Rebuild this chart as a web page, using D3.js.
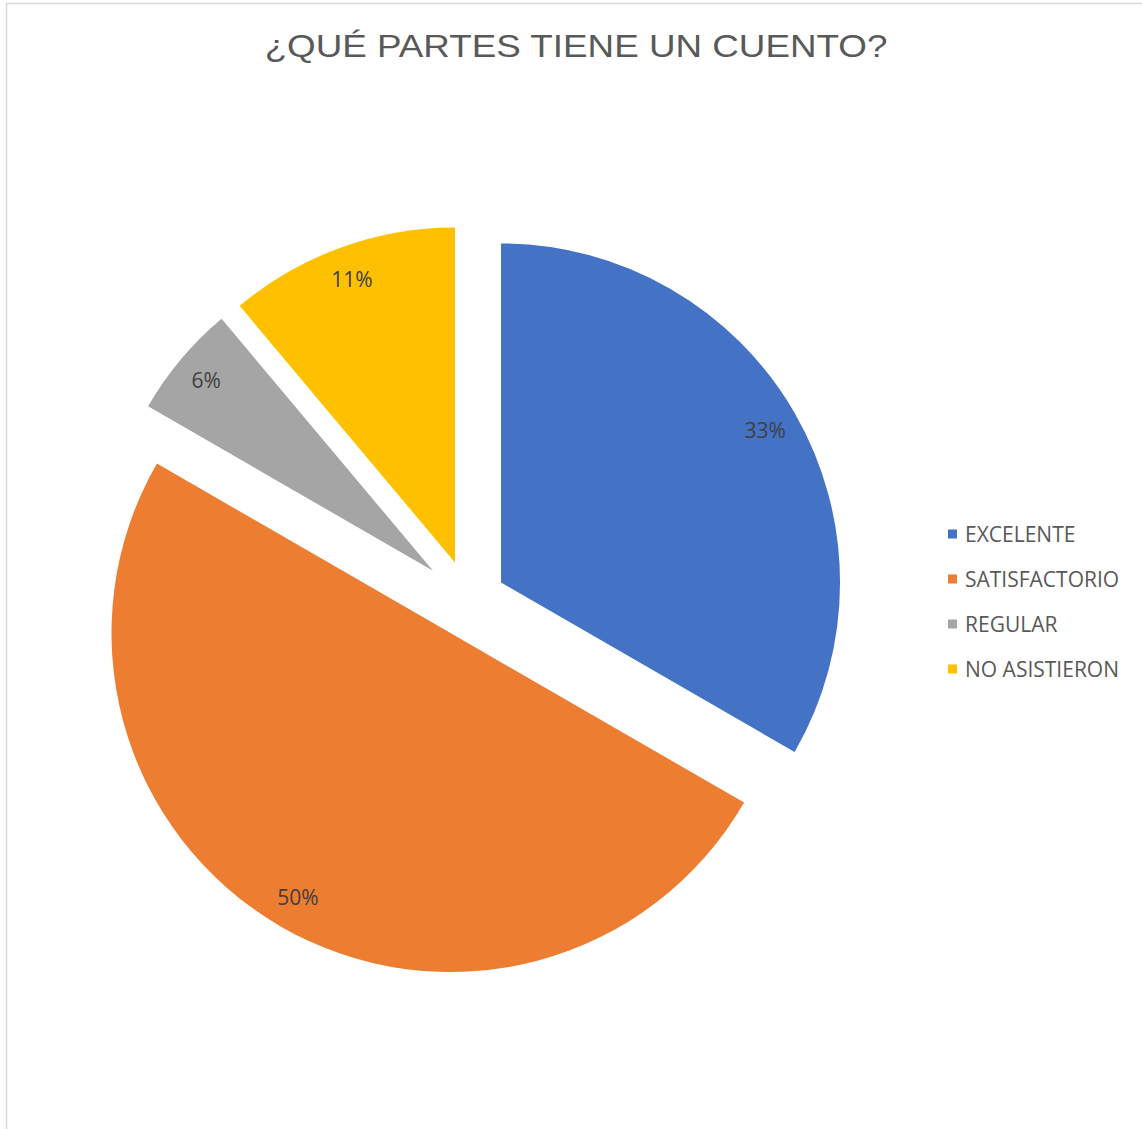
<!DOCTYPE html>
<html>
<head>
<meta charset="utf-8">
<script src="https://cdn.jsdelivr.net/npm/d3@7"></script>
<style>
  html, body { margin: 0; padding: 0; background: #ffffff; }
  svg { display: block; }
</style>
</head>
<body>
<script>
// ---- data ----
const title = "¿QUÉ PARTES TIENE UN CUENTO?";
const categories = ["EXCELENTE", "SATISFACTORIO", "REGULAR", "NO ASISTIERON"];
const values = [6, 9, 1, 2];
const colors = ["#4472C4", "#ED7D31", "#A5A5A5", "#FFC000"];
const explode = [37, 37, 47, 41];   // per-slice explosion distance (px)

// ---- layout ----
const W = 1142, H = 1129;
const cx = 469, cy = 601, outerR = 376;

const svg = d3.select("body").append("svg")
  .attr("width", W).attr("height", H);

// chart border (only top/left visible in the crop)
svg.append("rect")
  .attr("x", 6.5).attr("y", 3.5)
  .attr("width", W + 20).attr("height", H + 20)
  .attr("fill", "none").attr("stroke", "#D9D9D9").attr("stroke-width", 1.5);

svg.append("text")
  .attr("transform", "translate(576,57) scale(1.15,1)")
  .attr("text-anchor", "middle")
  .attr("font-family", "'Liberation Sans', Arial, sans-serif")
  .attr("font-size", 32)
  .attr("fill", "#595959")
  .text(title);

const total = d3.sum(values);
const pct = d3.format(".0%");
const pie = d3.pie().sort(null).value(d => d)(values);

const g = svg.append("g").attr("transform", `translate(${cx},${cy})`);

pie.forEach((p, i) => {
  const mid = (p.startAngle + p.endAngle) / 2;
  const dx = Math.sin(mid), dy = -Math.cos(mid);
  const ox = dx * explode[i], oy = dy * explode[i];
  const r = outerR - explode[i];
  const arc = d3.arc().innerRadius(0).outerRadius(r);
  const sg = g.append("g").attr("transform", `translate(${ox},${oy})`);
  sg.append("path").attr("d", arc(p)).attr("fill", colors[i]);
  sg.append("text")
    .attr("x", dx * r * 0.9).attr("y", dy * r * 0.9)
    .attr("text-anchor", "middle")
    .attr("dominant-baseline", "central")
    .attr("font-family", "'Open Sans', sans-serif")
    .attr("font-size", 21)
    .attr("fill", "#404040")
    .text(pct(values[i] / total));
});

// legend
const legend = svg.append("g");
const legendY = d3.scalePoint().domain(categories).range([534, 669]);
categories.forEach((c, i) => {
  const y = legendY(c);
  legend.append("rect")
    .attr("x", 948).attr("y", y - 4.5)
    .attr("width", 9).attr("height", 9)
    .attr("fill", colors[i]);
  legend.append("text")
    .attr("x", 965).attr("y", y + 7.5)
    .attr("font-family", "'Open Sans', sans-serif")
    .attr("font-size", 21)
    .attr("fill", "#595959")
    .text(c);
});
</script>
</body>
</html>
